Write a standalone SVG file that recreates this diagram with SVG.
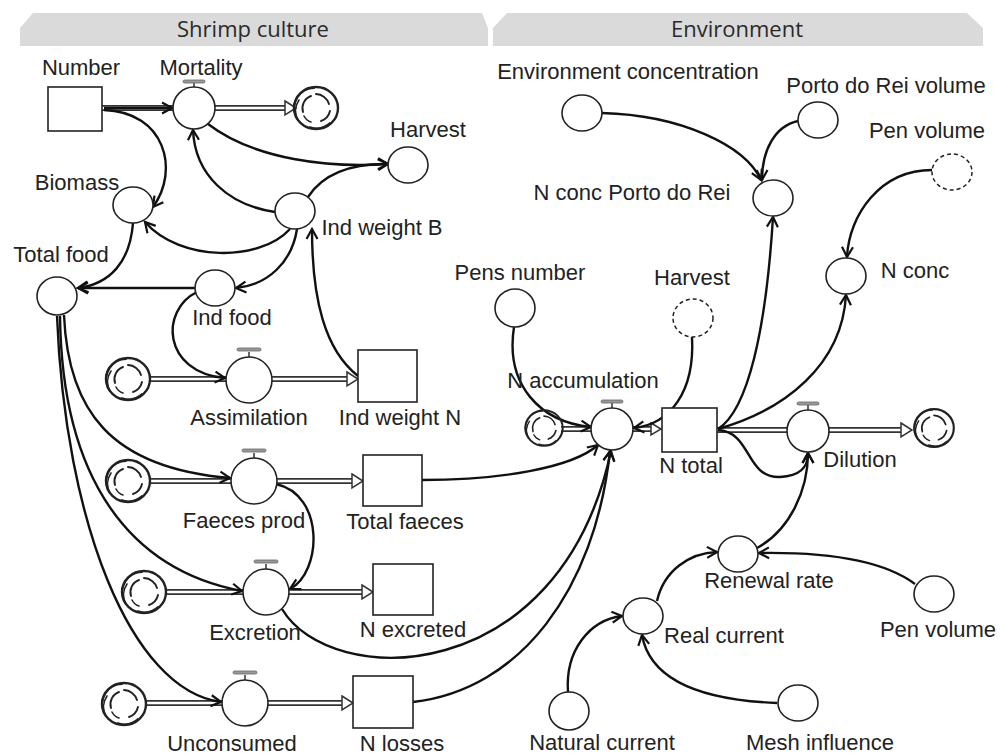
<svg xmlns="http://www.w3.org/2000/svg" xmlns:xlink="http://www.w3.org/1999/xlink" width="1000" height="754" viewBox="0 0 1000 754">
<style>
.lbl{font-family:"Liberation Sans",Arial,sans-serif;font-size:22px;fill:#222;text-anchor:middle}
.hdr{font-family:"Open Sans","Noto Sans",sans-serif;font-size:22px;fill:#2a2a2a;text-anchor:middle}
.aux{fill:#fff;stroke:#222;stroke-width:1.6}
.dash{fill:#fff;stroke:#222;stroke-width:1.5;stroke-dasharray:4 3}
.stock{fill:#fff;stroke:#222;stroke-width:1.6}
.con{fill:none;stroke:#111;stroke-width:2.4;marker-end:url(#ar)}
.pipeo{stroke:#333;stroke-width:6;fill:none}
.pipei{stroke:#fff;stroke-width:2.6;fill:none}
.head{fill:#fff;stroke:#333;stroke-width:1.5}
.bar{fill:#999;stroke:#666;stroke-width:0.8}
.cl{fill:none;stroke:#222;stroke-linecap:round}
</style>
<defs>
<marker id="ar" markerWidth="14" markerHeight="14" refX="11" refY="7" orient="auto" markerUnits="userSpaceOnUse">
<path d="M1,1.5 L11,7 L1,12.5" fill="none" stroke="#111" stroke-width="2.2"/>
</marker>
<g id="cloud">
<ellipse cx="0" cy="0" rx="22" ry="21" fill="#fff" class="cl" stroke-width="2.4"/>
<path d="M-20,8 A20,20 0 0 1 -2,-20" class="cl" stroke-width="1.8"/>
<path d="M-18,12 A19,19 0 0 1 -17,-8" class="cl" stroke-width="1.6"/>
<path d="M14,15 A20,20 0 0 1 -6,19" class="cl" stroke-width="1.8"/>
<path d="M-13,4 A13,13 0 0 1 -5,-12" class="cl" stroke-width="1.9"/>
<path d="M0,-14 A14,14 0 0 1 13,-4" class="cl" stroke-width="1.9"/>
<path d="M14,3 A14,14 0 0 1 5,13" class="cl" stroke-width="1.9"/>
<path d="M-5,14 A12,12 0 0 1 -12,8" class="cl" stroke-width="1.6"/>
</g>
</defs>

<g id="headers">
<polygon points="20,46 20,28 33,13 482,13 488,28 488,46" fill="#dadada"/>
<text class="hdr" x="253" y="37">Shrimp culture</text>
<polygon points="493,46 493,28 507,13 967,13 983,28 983,46" fill="#dadada"/>
<text class="hdr" x="737" y="37">Environment</text>
</g>

<g id="pipes">
<line class="pipeo" x1="102" y1="108" x2="286" y2="108"/><line class="pipei" x1="102" y1="108" x2="287" y2="108"/>
<polygon class="head" points="285,101 296,108 285,115"/>
<line class="pipeo" x1="150" y1="379" x2="348" y2="379"/><line class="pipei" x1="150" y1="379" x2="349" y2="379"/>
<polygon class="head" points="347,372 358,379 347,386"/>
<line class="pipeo" x1="151" y1="481" x2="353" y2="481"/><line class="pipei" x1="151" y1="481" x2="354" y2="481"/>
<polygon class="head" points="352,474 363,481 352,488"/>
<line class="pipeo" x1="166" y1="592" x2="363" y2="592"/><line class="pipei" x1="166" y1="592" x2="364" y2="592"/>
<polygon class="head" points="362,585 373,592 362,599"/>
<line class="pipeo" x1="146" y1="703" x2="343" y2="703"/><line class="pipei" x1="146" y1="703" x2="344" y2="703"/>
<polygon class="head" points="342,696 353,703 342,710"/>
<line class="pipeo" x1="561" y1="429" x2="652" y2="429"/><line class="pipei" x1="561" y1="429" x2="653" y2="429"/>
<polygon class="head" points="651,423 661,429 651,435"/>
<line class="pipeo" x1="717" y1="430" x2="902" y2="430"/><line class="pipei" x1="717" y1="430" x2="903" y2="430"/>
<polygon class="head" points="901,423 912,430 901,437"/>
</g>

<g id="connectors">
<path class="con" d="M104,108 L172,108"/>
<path class="con" d="M104,110 C165,112 180,170 153,207"/>
<path class="con" d="M275,212 C228,205 195,175 193,130"/>
<path class="con" d="M208,124 C255,160 330,168 388,164"/>
<path class="con" d="M308,197 C322,175 350,163 388,164"/>
<path class="con" d="M290,229 C260,262 180,262 145,222"/>
<path class="con" d="M133,223 C130,262 110,284 78,288"/>
<path class="con" d="M195,288 L78,288"/>
<path class="con" d="M297,229 C292,262 268,285 236,288"/>
<path class="con" d="M197,292 C160,310 162,372 225,378"/>
<path class="con" d="M358,376 C325,350 312,300 312,229"/>
<path class="con" d="M64,315 C68,410 110,468 230,478"/>
<path class="con" d="M60,316 C62,480 130,570 242,591"/>
<path class="con" d="M57,316 C65,520 130,690 221,702"/>
<path class="con" d="M276,484 C325,495 322,572 290,589"/>
<path class="con" d="M422,480 C500,480 572,468 598,445"/>
<path class="con" d="M282,609 C330,690 560,690 611,451"/>
<path class="con" d="M413,702 C520,690 595,590 610,451"/>
<path class="con" d="M514,327 C505,385 540,422 591,427"/>
<path class="con" d="M692,337 C695,392 670,424 634,428"/>
<path class="con" d="M718,429 C748,410 766,330 773,217"/>
<path class="con" d="M718,429 C785,410 842,365 846,295"/>
<path class="con" d="M718,430 C752,432 745,478 780,477 C800,476 808,468 808,453"/>
<path class="con" d="M757,548 C790,530 808,490 808,453"/>
<path class="con" d="M915,584 C880,558 820,552 759,553"/>
<path class="con" d="M657,601 C664,570 690,553 717,552"/>
<path class="con" d="M568,692 C565,650 590,620 622,616"/>
<path class="con" d="M777,703 C700,700 650,680 642,635"/>
<path class="con" d="M602,113 C680,115 745,145 761,180"/>
<path class="con" d="M798,121 C775,126 762,150 762,180"/>
<path class="con" d="M932,170 C880,170 849,215 847,257"/>
</g>

<g id="number"><rect class="stock" x="48" y="87" width="54" height="44"/><text class="lbl" x="81" y="75">Number</text></g>
<g id="mortality"><line x1="194" y1="87" x2="194" y2="83" stroke="#666" stroke-width="2"/><rect class="bar" x="183" y="80" width="22" height="3" rx="1.5"/><circle class="aux" cx="194" cy="108" r="21"/><text class="lbl" x="201" y="75">Mortality</text></g>
<g id="mortality-sink"><use xlink:href="#cloud" transform="translate(316,108)"/></g>
<g id="harvest"><ellipse class="aux" cx="408" cy="165" rx="20" ry="18"/><text class="lbl" x="428" y="137">Harvest</text></g>
<g id="biomass"><ellipse class="aux" cx="133" cy="205" rx="20" ry="18"/><text class="lbl" x="77" y="190">Biomass</text></g>
<g id="ind-weight-b"><ellipse class="aux" cx="295" cy="211" rx="20" ry="18"/><text class="lbl" x="382" y="235">Ind weight B</text></g>
<g id="total-food"><ellipse class="aux" cx="57" cy="296" rx="20" ry="19"/><text class="lbl" x="61" y="262">Total food</text></g>
<g id="ind-food"><ellipse class="aux" cx="215" cy="288" rx="20" ry="18"/><text class="lbl" x="232" y="325">Ind food</text></g>

<g id="assimilation"><use xlink:href="#cloud" transform="translate(128,379)"/><line x1="249" y1="357" x2="249" y2="352" stroke="#666" stroke-width="2"/><rect class="bar" x="237" y="348" width="24" height="3" rx="1.5"/><circle class="aux" cx="249" cy="380" r="23"/><text class="lbl" x="249" y="425">Assimilation</text></g>
<g id="ind-weight-n"><rect class="stock" x="358" y="350" width="59" height="52"/><text class="lbl" x="400" y="425">Ind weight N</text></g>

<g id="faeces-prod"><use xlink:href="#cloud" transform="translate(128,481)"/><line x1="254" y1="458" x2="254" y2="453" stroke="#666" stroke-width="2"/><rect class="bar" x="242" y="449" width="24" height="3" rx="1.5"/><circle class="aux" cx="254" cy="481" r="23"/><text class="lbl" x="244" y="528">Faeces prod</text></g>
<g id="total-faeces"><rect class="stock" x="363" y="455" width="59" height="51"/><text class="lbl" x="405" y="529">Total faeces</text></g>

<g id="excretion"><use xlink:href="#cloud" transform="translate(144,592)"/><line x1="266" y1="569" x2="266" y2="564" stroke="#666" stroke-width="2"/><rect class="bar" x="254" y="560" width="24" height="3" rx="1.5"/><circle class="aux" cx="266" cy="592" r="23"/><text class="lbl" x="255" y="640">Excretion</text></g>
<g id="n-excreted"><rect class="stock" x="373" y="564" width="60" height="51"/><text class="lbl" x="413" y="637">N excreted</text></g>

<g id="unconsumed"><use xlink:href="#cloud" transform="translate(124,704)"/><line x1="245" y1="680" x2="245" y2="675" stroke="#666" stroke-width="2"/><rect class="bar" x="233" y="671" width="24" height="3" rx="1.5"/><circle class="aux" cx="245" cy="703" r="23"/><text class="lbl" x="232" y="751">Unconsumed</text></g>
<g id="n-losses"><rect class="stock" x="353" y="676" width="60" height="52"/><text class="lbl" x="402" y="751">N losses</text></g>

<g id="environment-concentration"><ellipse class="aux" cx="582" cy="113" rx="20" ry="18"/><text class="lbl" x="628" y="79">Environment concentration</text></g>
<g id="porto-do-rei-volume"><ellipse class="aux" cx="818" cy="120" rx="20" ry="18"/><text class="lbl" x="886" y="93">Porto do Rei volume</text></g>
<g id="pen-volume-top"><ellipse class="dash" cx="952" cy="172" rx="20" ry="18"/><text class="lbl" x="927" y="138">Pen volume</text></g>
<g id="n-conc-porto-do-rei"><ellipse class="aux" cx="773" cy="198" rx="20" ry="18"/><text class="lbl" x="632" y="200">N conc Porto do Rei</text></g>
<g id="n-conc"><ellipse class="aux" cx="846" cy="276" rx="20" ry="18"/><text class="lbl" x="915" y="278">N conc</text></g>
<g id="pens-number"><ellipse class="aux" cx="515" cy="308" rx="20" ry="19"/><text class="lbl" x="520" y="280">Pens number</text></g>
<g id="harvest-env"><ellipse class="dash" cx="693" cy="318" rx="20" ry="19"/><text class="lbl" x="692" y="285">Harvest</text></g>
<g id="n-accumulation"><use xlink:href="#cloud" transform="translate(544,428) scale(0.85)"/><line x1="612" y1="408" x2="612" y2="403" stroke="#666" stroke-width="2"/><rect class="bar" x="601" y="400" width="22" height="3" rx="1.5"/><circle class="aux" cx="612" cy="429" r="21"/><text class="lbl" x="583" y="388">N accumulation</text></g>
<g id="n-total"><rect class="stock" x="662" y="408" width="55" height="44"/><text class="lbl" x="691" y="473">N total</text></g>
<g id="dilution"><line x1="808" y1="410" x2="808" y2="405" stroke="#666" stroke-width="2"/><rect class="bar" x="797" y="402" width="22" height="3" rx="1.5"/><circle class="aux" cx="808" cy="431" r="21"/><text class="lbl" x="860" y="467">Dilution</text></g>
<g id="dilution-sink"><use xlink:href="#cloud" transform="translate(934,428) scale(0.9)"/></g>
<g id="renewal-rate"><ellipse class="aux" cx="738" cy="554" rx="20" ry="18"/><text class="lbl" x="769" y="588">Renewal rate</text></g>
<g id="pen-volume-bottom"><ellipse class="aux" cx="934" cy="594" rx="20" ry="18"/><text class="lbl" x="938" y="637">Pen volume</text></g>
<g id="real-current"><ellipse class="aux" cx="643" cy="616" rx="20" ry="18"/><text class="lbl" x="724" y="643">Real current</text></g>
<g id="natural-current"><ellipse class="aux" cx="569" cy="711" rx="20" ry="19"/><text class="lbl" x="602" y="750">Natural current</text></g>
<g id="mesh-influence"><ellipse class="aux" cx="798" cy="703" rx="20" ry="18"/><text class="lbl" x="820" y="750">Mesh influence</text></g>
</svg>
